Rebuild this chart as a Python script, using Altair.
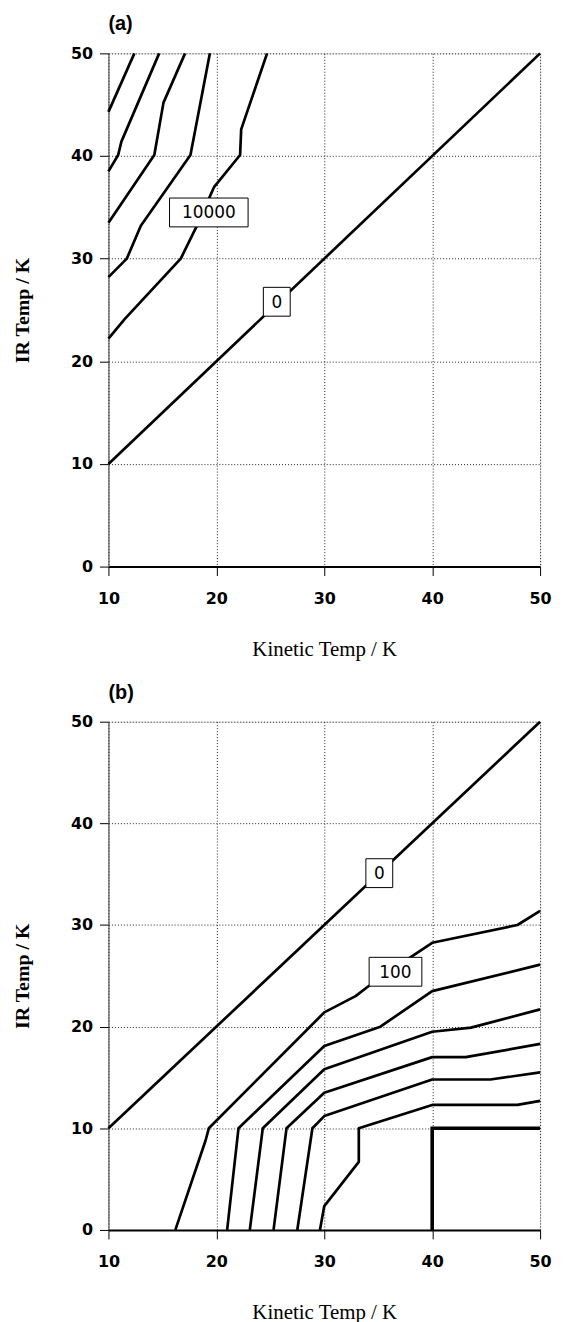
import altair as alt
import pandas as pd

# ---------------- Panel (a) contour lines (Kinetic Temp K, IR Temp T) ----------------
a0_K = [10, 50]
a0_T = [10, 50]
a1_K = [24.7, 22.3, 22.2, 19.8, 18.1, 16.7, 11.5, 10.0]
a1_T = [50, 42.6, 40.1, 37.0, 33.0, 30.0, 24.1, 22.2]
a2_K = [19.4, 17.6, 13.0, 11.7, 10.0]
a2_T = [50, 40.1, 33.2, 30.0, 28.2]
a3_K = [17.1, 15.1, 14.25, 10.0]
a3_T = [50, 45.2, 40.1, 33.5]
a4_K = [14.7, 11.2, 10.9, 10.0]
a4_T = [50, 41.4, 40.1, 38.5]
a5_K = [12.4, 10.0]
a5_T = [50, 44.3]

a_labels = ["10000", "0"]
a_label_K = [19.3, 25.6]
a_label_T = [34.5, 25.8]

# ---------------- Panel (b) contour lines ----------------
b0_K = [10, 50]
b0_T = [10, 50]
b1_K = [16.2, 19.0, 19.3, 30.0, 32.9, 34.0, 37.8, 40.0, 47.9, 50]
b1_T = [0, 8.8, 10.0, 21.4, 23.0, 23.9, 26.7, 28.25, 30.0, 31.4]
b2_K = [21.0, 22.05, 30.0, 35.2, 40.0, 50]
b2_T = [0, 10.0, 18.1, 20.0, 23.5, 26.1]
b3_K = [23.1, 24.3, 30.0, 40.0, 43.6, 50]
b3_T = [0, 10.0, 15.8, 19.5, 19.9, 21.7]
b4_K = [25.3, 26.5, 30.0, 40.0, 43.1, 50]
b4_T = [0, 10.0, 13.5, 17.0, 17.0, 18.3]
b5_K = [27.5, 28.9, 30.0, 40.0, 45.4, 50]
b5_T = [0, 10.0, 11.2, 14.8, 14.8, 15.5]
b6_K = [29.6, 30.0, 33.2, 33.2, 40.0, 47.9, 50]
b6_T = [0, 2.35, 6.7, 10.0, 12.3, 12.3, 12.7]
b7_K = [40, 40, 50]
b7_T = [0, 10, 10]

b_labels = ["0", "100"]
b_label_K = [35.1, 36.6]
b_label_T = [35.1, 25.4]

x_ticks = [10, 20, 30, 40, 50]
y_ticks = [0, 10, 20, 30, 40, 50]


def lines_df(lines):
    rows = []
    for name, ks, ts in lines:
        for i, (k, t) in enumerate(zip(ks, ts)):
            rows.append({"line": name, "ord": i, "K": k, "T": t})
    return pd.DataFrame(rows)


TICK_FONT = "DejaVu Sans"
LABEL_FONT = "Liberation Sans"
SERIF = "Liberation Serif"


def make_panel(title, lines, thick_lines, labels, lab_k, lab_t, height):
    xenc = alt.X(
        "K:Q",
        scale=alt.Scale(domain=[10, 50], nice=False),
        axis=alt.Axis(
            values=x_ticks, title="Kinetic Temp / K", titleFont=SERIF,
            titleFontSize=21, titleFontWeight="normal", titleColor="black",
            titlePadding=32, labelFont=TICK_FONT, labelFontSize=16,
            labelFontWeight="bold", labelColor="black", labelPadding=15,
            tickSize=9, tickColor="black", domainColor="black", domainWidth=2,
            grid=True, gridColor="#222", gridDash=[1, 2], gridWidth=1,
            labelFlush=False,
        ),
    )
    yenc = alt.Y(
        "T:Q",
        scale=alt.Scale(domain=[0, 50], nice=False),
        axis=alt.Axis(
            values=y_ticks, title="IR Temp / K", titleFont=SERIF,
            titleFontSize=20, titleFontWeight="bold", titleColor="black",
            titlePadding=38, labelFont=TICK_FONT, labelFontSize=16,
            labelFontWeight="bold", labelColor="black", labelPadding=7,
            tickSize=9, tickColor="black", domainColor="#444", domainWidth=1,
            grid=True, gridColor="#222", gridDash=[1, 2], gridWidth=1,
            labelFlush=False,
        ),
    )
    layers = [
        alt.Chart(lines_df(lines)).mark_line(
            color="black", strokeWidth=2.7, strokeJoin="round"
        ).encode(x=xenc, y=yenc, detail="line:N", order="ord:Q")
    ]
    if thick_lines:
        layers.append(
            alt.Chart(lines_df(thick_lines)).mark_line(
                color="black", strokeWidth=3.6, strokeJoin="miter"
            ).encode(x=xenc, y=yenc, detail="line:N", order="ord:Q")
        )
    for txt, k, t in zip(labels, lab_k, lab_t):
        w = 14 + 13 * len(txt)
        h = 29
        d = pd.DataFrame({"K": [k], "T": [t], "txt": [txt]})
        layers.append(
            alt.Chart(d).mark_rect(
                fill="white", stroke="black", strokeWidth=1,
                xOffset=-w / 2, x2Offset=w / 2, yOffset=-h / 2, y2Offset=h / 2,
            ).encode(x=xenc, x2="K:Q", y=yenc, y2="T:Q")
        )
        layers.append(
            alt.Chart(d).mark_text(
                font=TICK_FONT, fontSize=17, color="black",
                align="center", baseline="middle", dy=1,
            ).encode(x=xenc, y=yenc, text="txt:N")
        )
    return alt.layer(*layers).properties(
        width=434, height=height,
        title=alt.TitleParams(
            title, anchor="start", frame="group", font=LABEL_FONT,
            fontSize=20, fontWeight="bold", color="black", offset=11,
        ),
    )


pa = make_panel(
    "(a)",
    [("a0", a0_K, a0_T), ("a1", a1_K, a1_T), ("a2", a2_K, a2_T),
     ("a3", a3_K, a3_T), ("a4", a4_K, a4_T), ("a5", a5_K, a5_T)],
    [], a_labels, a_label_K, a_label_T, 516,
)
pb = make_panel(
    "(b)",
    [("b0", b0_K, b0_T), ("b1", b1_K, b1_T), ("b2", b2_K, b2_T),
     ("b3", b3_K, b3_T), ("b4", b4_K, b4_T), ("b5", b5_K, b5_T),
     ("b6", b6_K, b6_T)],
    [("b7", b7_K, b7_T)], b_labels, b_label_K, b_label_T, 511,
)

chart = alt.vconcat(pa, pb, spacing=22).properties(
    padding={"left": 4, "top": 2, "right": 5, "bottom": 5}
).configure_view(
    stroke="#444", strokeWidth=1
).configure(background="white")

chart.save("out.html", embed_options={"renderer": "svg", "actions": False})
